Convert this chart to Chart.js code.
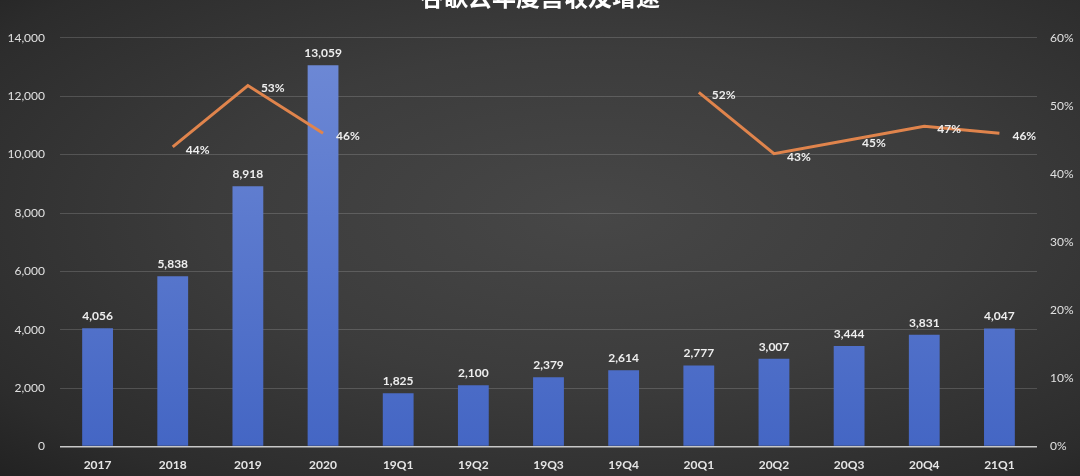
<!DOCTYPE html>
<html>
<head>
<meta charset="utf-8">
<script src="https://cdn.jsdelivr.net/npm/chart.js@4"></script>
<style>
  html, body { margin: 0; padding: 0; overflow: hidden; }
  body {
    width: 1080px; height: 476px;
    background: radial-gradient(ellipse at 55% 45%, #474747 0%, #3c3c3c 45%, #2c2c2c 85%, #222222 100%);
  }
  #wrap { position: absolute; left: 0; top: -20px; width: 1080px; height: 495px; }
</style>
</head>
<body>
<div id="wrap"><canvas id="myChart"></canvas></div>
<script>
const titleText = '谷歌云年度营收及增速';
const categories = ['2017', '2018', '2019', '2020', '19Q1', '19Q2', '19Q3', '19Q4', '20Q1', '20Q2', '20Q3', '20Q4', '21Q1'];
const revenue = [4056, 5838, 8918, 13059, 1825, 2100, 2379, 2614, 2777, 3007, 3444, 3831, 4047];
const growth = [null, 0.44, 0.53, 0.46, null, null, null, null, 0.52, 0.43, 0.45, 0.47, 0.46];
const leftTicks = [0, 2000, 4000, 6000, 8000, 10000, 12000, 14000];
const rightTicks = [0, 0.1, 0.2, 0.3, 0.4, 0.5, 0.6];

const labelFont = 'bold 12px Lato, "Open Sans", sans-serif';

// draws value labels, like the datalabels of the original
const valueLabels = {
    id: 'valueLabels',
    afterDatasetsDraw(chart) {
        const ctx = chart.ctx;
        ctx.save();
        ctx.font = labelFont;
        ctx.fillStyle = '#eeeeee';
        chart.getDatasetMeta(0).data.forEach((bar, i) => {
            ctx.textAlign = 'center';
            ctx.textBaseline = 'bottom';
            ctx.fillText(revenue[i].toLocaleString('en-US'), bar.x, bar.y - 6);
        });
        chart.getDatasetMeta(1).data.forEach((pt, i) => {
            if (growth[i] === null) return;
            ctx.textAlign = 'left';
            ctx.textBaseline = 'middle';
            ctx.fillText(Math.round(growth[i] * 100) + '%', pt.x + 13, pt.y + 3);
        });
        ctx.restore();
    }
};

function barGradient(context) {
    const area = context.chart.chartArea;
    if (!area) return '#5574cc';
    const g = context.chart.ctx.createLinearGradient(0, area.top, 0, area.bottom);
    g.addColorStop(0, '#6f8ad6');
    g.addColorStop(1, '#4466c4');
    return g;
}

const data = {
    labels: categories,
    datasets: [{
        type: 'bar',
        label: '营收',
        data: revenue,
        yAxisID: 'y',
        backgroundColor: barGradient,
        barPercentage: 0.41,
        categoryPercentage: 1,
        order: 2
    }, {
        type: 'line',
        label: '增速',
        data: growth,
        yAxisID: 'y1',
        borderColor: '#e0844c',
        borderWidth: 3,
        pointRadius: 0,
        spanGaps: false,
        tension: 0,
        order: 1
    }]
};

const config = {
    data,
    options: {
        responsive: true,
        maintainAspectRatio: false,
        animation: false,
        layout: { padding: 0 },
        plugins: {
            legend: { display: false },
            tooltip: { enabled: false },
            title: {
                display: true,
                text: titleText,
                color: '#ffffff',
                font: { size: 24, weight: 'bold', family: '"Noto Sans CJK SC", sans-serif' },
                padding: { top: 2, bottom: 27 }
            }
        },
        scales: {
            x: {
                grid: { display: false },
                border: { display: false },
                ticks: { color: '#e6e6e6', font: { size: 12, weight: 'bold', family: 'Lato, "Open Sans", sans-serif' }, padding: 3 }
            },
            y: {
                position: 'left',
                min: 0, max: 14000,
                afterBuildTicks: axis => { axis.ticks = leftTicks.map(v => ({ value: v })); },
                afterFit: axis => { axis.width = 60; },
                grid: {
                    color: ctx => ctx.tick && ctx.tick.value === 0 ? '#c8c8c8' : 'rgba(255,255,255,0.16)',
                    lineWidth: ctx => ctx.tick && ctx.tick.value === 0 ? 1.5 : 1,
                    drawTicks: false
                },
                border: { display: false },
                ticks: {
                    color: '#e0e0e0',
                    font: { size: 12, family: 'Lato, "Open Sans", sans-serif' },
                    padding: 15,
                    callback: v => v.toLocaleString('en-US')
                }
            },
            y1: {
                position: 'right',
                min: 0, max: 0.6,
                afterBuildTicks: axis => { axis.ticks = rightTicks.map(v => ({ value: v })); },
                afterFit: axis => { axis.width = 43; },
                grid: { display: false, drawTicks: false },
                border: { display: false },
                ticks: {
                    color: '#e0e0e0',
                    font: { size: 12, family: 'Lato, "Open Sans", sans-serif' },
                    padding: 13,
                    callback: v => Math.round(v * 100) + '%'
                }
            }
        }
    },
    plugins: [valueLabels]
};

new Chart(document.getElementById('myChart'), config);
</script>
</body>
</html>
